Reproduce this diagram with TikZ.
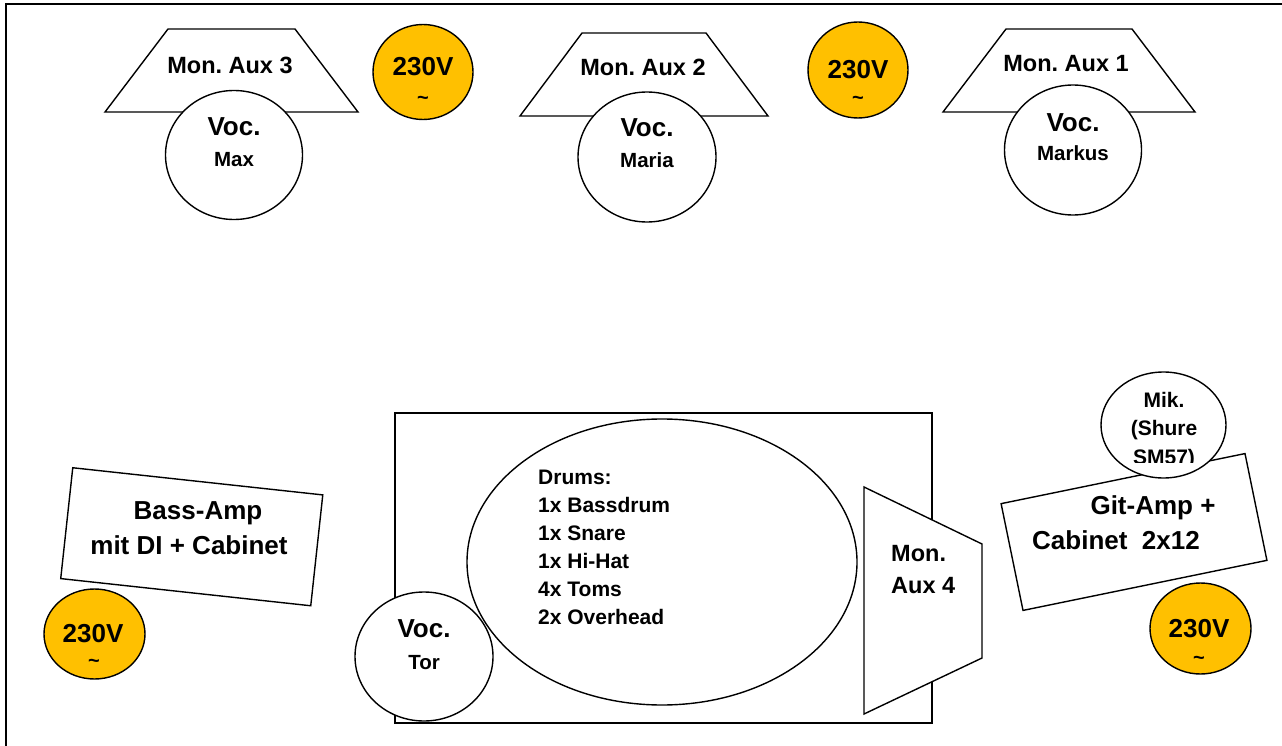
\documentclass[tikz,border=0pt]{standalone}
\usepackage{fontspec}
\setmainfont{Liberation Sans}
\usetikzlibrary{shapes.geometric}
\definecolor{pwrorange}{HTML}{FFC000}
\frenchspacing
\newcommand\fsz[1]{\fontsize{#1}{#1}\selectfont\bfseries}
\tikzset{
  outl/.style={draw=black, line width=1.4pt, fill=white},
  voc/.style={ellipse, draw=black, line width=1.4pt, fill=white, inner sep=0pt},
  pwr/.style={ellipse, draw=black, line width=1.4pt, fill=pwrorange, inner sep=0pt},
  boxr/.style={rectangle, draw=black, line width=1.4pt, fill=white, inner sep=0pt},
  lbl/.style={inner sep=0pt, anchor=base},
  lblw/.style={inner sep=0pt, anchor=base west},
  big/.style={font=\fsz{26}},
  mon/.style={font=\fsz{23.5}},
  nm/.style={font=\fsz{20.5}},
  sm/.style={font=\fsz{21}},
  tld/.style={font=\fsz{20}},
}
\begin{document}
\begin{tikzpicture}[x=1pt,y=-1pt]
\useasboundingbox (0,0) rectangle (1282,746);
% frame (top and left only)
\draw[line width=2pt] (1282,4) -- (5.5,4) -- (5.5,746);

% top monitors and vocal mics
\draw[outl] (168,29) -- (295,29) -- (358,112) -- (105,112) -- cycle;
\draw[outl] (582,33) -- (706,33) -- (768,116) -- (520,116) -- cycle;
\draw[outl] (1006,29) -- (1132,29) -- (1195,112) -- (943,112) -- cycle;
\node[mon,lbl] (aux3) at (230,73.4) {Mon. Aux 3};
\node[mon,lbl] (aux2) at (643,75.4) {Mon. Aux 2};
\node[mon,lbl] (aux1) at (1066,71.4) {Mon. Aux 1};

\node[voc, minimum width=137pt, minimum height=129pt] (vmax) at (234,155) {};
\node[voc, minimum width=138pt, minimum height=130pt] (vmaria) at (647,157) {};
\node[voc, minimum width=137pt, minimum height=130pt] (vmarkus) at (1073,150) {};
\node[big,lbl] (vmaxa) at (234,136) {Voc.};
\node[nm,lbl] (vmaxb) at (234,166.3) {Max};
\node[big,lbl] (vmariaa) at (647,137) {Voc.};
\node[nm,lbl] (vmariab) at (647,167.3) {Maria};
\node[big,lbl] (vmarkusa) at (1073,132) {Voc.};
\node[nm,lbl] (vmarkusb) at (1073,160.3) {Markus};

% power outlets
\node[pwr, minimum width=100pt, minimum height=95pt] (p1) at (423,72) {};
\node[pwr, minimum width=100pt, minimum height=96pt] (p2) at (858,70) {};
\node[pwr, minimum width=101pt, minimum height=90pt] (p3) at (94.5,634) {};
\node[pwr, minimum width=101pt, minimum height=91pt] (p4) at (1200.5,628.5) {};
\node[big,lbl] (p1a) at (423,76) {230V};
\node[tld,lbl] (p1b) at (423,105) {\textasciitilde};
\node[big,lbl] (p2a) at (858,79) {230V};
\node[tld,lbl] (p2b) at (858,105) {\textasciitilde};
\node[big,lbl] (p3a) at (93,642) {230V};
\node[tld,lbl] (p3b) at (94,667) {\textasciitilde};
\node[big,lbl] (p4a) at (1199,637) {230V};
\node[tld,lbl] (p4b) at (1199,664) {\textasciitilde};

% drum riser
\draw[line width=1.4pt] (395,413) rectangle (932,723);
\node[voc, minimum width=138pt, minimum height=129pt] (vtor) at (424,656.5) {};
\node[ellipse, draw=black, line width=1.4pt, inner sep=0pt, minimum width=390pt, minimum height=286pt] (drums) at (662,562) {};
\draw[outl] (864,487) -- (982,544) -- (982,658) -- (864,714) -- cycle;
\node[mon,lblw] (aux4a) at (891,561.4) {Mon.};
\node[mon,lblw] (aux4b) at (891,593.4) {Aux 4};
\node[big,lbl] (vtora) at (424,637) {Voc.};
\node[nm,lbl] (vtorb) at (424,669) {Tor};
\node[sm,lblw] (d1) at (538,484.5) {Drums:};
\node[sm,lblw] (d2) at (538,512) {1x Bassdrum};
\node[sm,lblw] (d3) at (538,540) {1x Snare};
\node[sm,lblw] (d4) at (538,568) {1x Hi-Hat};
\node[sm,lblw] (d5) at (538,596) {4x Toms};
\node[sm,lblw] (d6) at (538,624.5) {2x Overhead};

% amps
\node[boxr, rotate=-6.2, minimum width=251.5pt, minimum height=111.5pt] (bass) at (191.75,536.75) {};
\node[big,lbl] (bassa) at (198,519.3) {Bass-Amp};
\node[big,lbl] (bassb) at (189,554.3) {mit DI + Cabinet};

\node[boxr, rotate=11.6, minimum width=249pt, minimum height=109pt] (git) at (1134,532) {};
\node[big,lbl] (gita) at (1153,514) {Git-Amp +};
\node[big,lbl] (gitb) at (1116,549) {Cabinet\ \ 2x12};

\node[voc, minimum width=125pt, minimum height=106pt] (mik) at (1163.5,425) {};
\node[sm,lbl] (mika) at (1164,407.5) {Mik.};
\node[sm,lbl] (mikb) at (1164,435.5) {(Shure};
\begin{scope}
\clip (1100,440) rectangle (1230,462.5);
\node[sm,lbl] (mikc) at (1164,464.5) {SM57)};
\end{scope}
\end{tikzpicture}
\end{document}
